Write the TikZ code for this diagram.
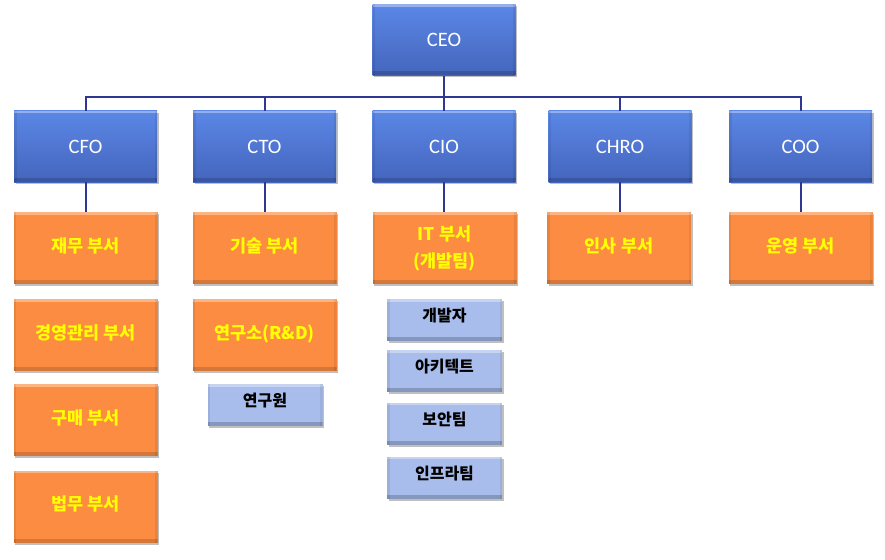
\documentclass[tikz,border=0pt]{standalone}
\usepackage{fontspec}
\setmainfont{Carlito}
\newfontfamily\kr{Noto Sans CJK KR}
\usetikzlibrary{shadows}
\definecolor{bluetop}{HTML}{5B87E6}
\definecolor{bluebot}{HTML}{4465BC}
\definecolor{orng}{HTML}{FB8C42}
\definecolor{lblue}{HTML}{A8BDEC}
\definecolor{linecol}{HTML}{2E3892}
\definecolor{ytext}{HTML}{FFFF00}
\tikzset{
  bevel/.style={path picture={
    \fill[#1] (path picture bounding box.south west) rectangle ([yshift=4pt]path picture bounding box.south east);
    \fill[white,opacity=.35] (path picture bounding box.north west) rectangle ([yshift=-2.5pt]path picture bounding box.north east);
    \fill[black,opacity=.07] (path picture bounding box.south west) rectangle ([xshift=2.5pt]path picture bounding box.north west);
    \fill[black,opacity=.07] (path picture bounding box.south east) rectangle ([xshift=-2.5pt]path picture bounding box.north east);
  }},
  base/.style={rectangle, inner sep=0pt, align=center,
    drop shadow={shadow xshift=1.5pt, shadow yshift=-2pt, opacity=.25, fill=black}},
  exec/.style={base, minimum width=143pt, minimum height=71pt,
    top color=bluetop, bottom color=bluebot, text=white,
    font=\fontsize{20.5}{24}\selectfont, bevel=bluebot!85!black},
  deptbase/.style={base, minimum width=144pt, minimum height=72pt,
    fill=orng, text=ytext, font=\kr\bfseries\fontsize{17.5}{27}\selectfont,
    bevel=orng!85!black},
  dept/.style={deptbase, text height=14pt, text depth=6pt},
  team/.style={base, minimum width=115pt, minimum height=42pt,
    fill=lblue, text=black, font=\kr\bfseries\fontsize{16}{18}\selectfont,
    text height=13pt, text depth=10pt, bevel=lblue!80!black},
  conn/.style={draw=linecol, line width=2pt}
}
\begin{document}
\begin{tikzpicture}[x=1pt,y=-1pt]
\useasboundingbox (0,0) rectangle (885,559);
% level 1
\node[exec] (ceo) at (444,40) {CEO};
% level 2
\node[exec] (cfo) at (85.5,146.5) {CFO};
\node[exec] (cto) at (264.5,146.5) {CTO};
\node[exec] (cio) at (444,146.5) {CIO};
\node[exec] (chro) at (620,146.5) {CHRO};
\node[exec] (coo) at (800.5,146.5) {COO};
% level 3
\node[dept] (fin) at (85.5,248) {재무 부서};
\node[dept] (tech) at (264.5,248) {기술 부서};
\node[deptbase] (it) at (444.5,248) {IT 부서\\(개발팀)};
\node[dept] (hr) at (619,248) {인사 부서};
\node[dept] (ops) at (800.5,248) {운영 부서};
% CFO column
\node[dept] (mgmt) at (85.5,335) {경영관리 부서};
\node[dept] (buy) at (85.5,420) {구매 부서};
\node[dept] (law) at (85.5,506.5) {법무 부서};
% CTO column
\node[dept] (rnd) at (264.5,335) {연구소(R\&D)};
\node[team] (res) at (265,405) {연구원};
% CIO column
\node[team] (dev) at (444.5,320) {개발자};
\node[team] (arch) at (444.5,371) {아키텍트};
\node[team] (sec) at (444.5,423.5) {보안팀};
\node[team] (infra) at (444.5,477.5) {인프라팀};
% connectors
\coordinate (bus) at (444,97);
\draw[conn] (ceo.south) -- (bus);
\draw[conn] (cfo.north) -- (cfo.north |- bus) -- (coo.north |- bus) -- (coo.north);
\draw[conn] (cto.north) -- (cto.north |- bus);
\draw[conn] (cio.north) -- (cio.north |- bus);
\draw[conn] (chro.north) -- (chro.north |- bus);
\draw[conn] (cfo.south) -- (fin.north -| cfo.south);
\draw[conn] (cto.south) -- (tech.north -| cto.south);
\draw[conn] (cio.south) -- (it.north -| cio.south);
\draw[conn] (chro.south) -- (hr.north -| chro.south);
\draw[conn] (coo.south) -- (ops.north -| coo.south);
\end{tikzpicture}
\end{document}
